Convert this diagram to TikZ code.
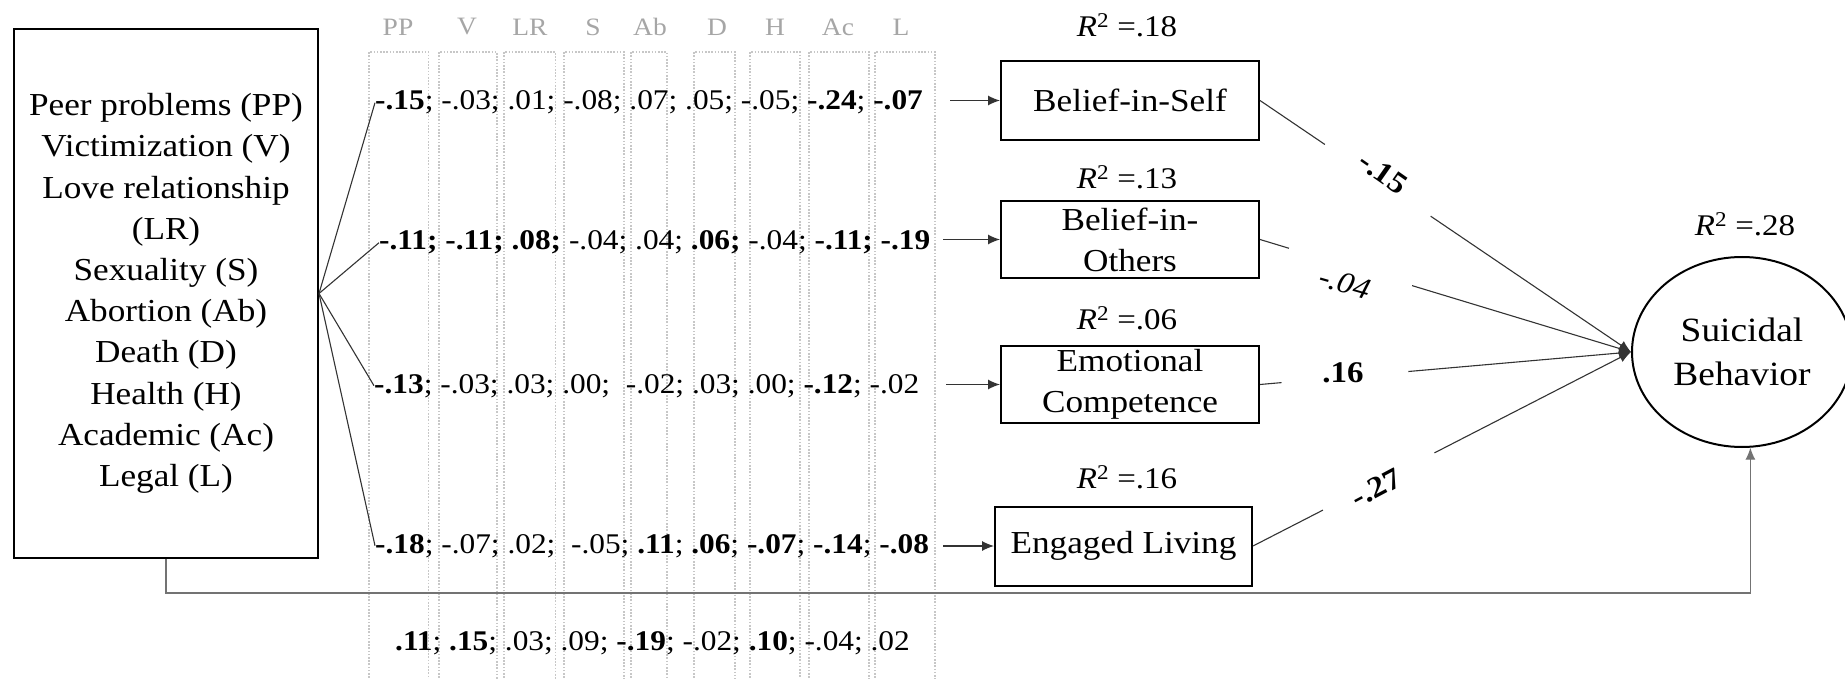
\documentclass[tikz,border=0pt]{standalone}
\usepackage{fontspec}
\setmainfont{Liberation Serif}[FakeStretch=1.1]
\usetikzlibrary{arrows.meta,shapes.geometric,calc}
\begin{document}
\begin{tikzpicture}[x=1pt,y=-1pt,
  box/.style={draw=black, line width=2pt, inner sep=0pt, align=center},
  conn/.style={draw=black!80, line width=1.1pt},
  arr/.style={conn, -{Latex[length=12pt,width=10pt]}},
  colbox/.style={draw=black!22, line width=1.6pt, dash pattern=on 1.6pt off 1.6pt},
  hdr/.style={text=black!35, font=\fontsize{25}{29}\selectfont, inner sep=0pt},
  rowtxt/.style={font=\fontsize{28.5}{32}\selectfont, inner sep=0pt, anchor=base west},
  rsq/.style={font=\fontsize{30}{34}\selectfont, inner sep=0pt},
  lbl/.style={font=\fontsize{30}{34}\selectfont, inner sep=0pt},
  medbox/.style={box, font=\fontsize{32}{41}\selectfont}
]
\useasboundingbox (0,0) rectangle (1845,679);

% dotted column frames
\foreach \a/\b in {369/428.5,439/497,504/555.5,564/624,631/667,694/735,750/800,809/869,875/935}
  \draw[colbox] (\a,681) -- (\a,52) -- (\b,52) -- (\b,681);

% column headers
\node[hdr] (hPP) at (398,27) {PP};
\node[hdr] (hV)  at (467,27) {V};
\node[hdr] (hLR) at (530,27) {LR};
\node[hdr] (hS)  at (593,27) {S};
\node[hdr] (hAb) at (650,27) {Ab};
\node[hdr] (hD)  at (717,27) {D};
\node[hdr] (hH)  at (775,27) {H};
\node[hdr] (hAc) at (838,27) {Ac};
\node[hdr] (hL)  at (901,27) {L};

% predictor box
\node[box, minimum width=304pt, minimum height=529pt, font=\fontsize{32}{41.2}\selectfont] (L) at (166,293.5)
  {Peer problems (PP)\\Victimization (V)\\Love relationship\\(LR)\\Sexuality (S)\\Abortion (Ab)\\Death (D)\\Health (H)\\Academic (Ac)\\Legal (L)};

% coefficient rows
\node[rowtxt] (r1) at (375,110) {\textbf{-.15}; -.03; .01; -.08; .07; .05; -.05; \textbf{-.24}; \textbf{-.07}};
\node[rowtxt] (r2) at (379,250) {\textbf{-.11; -.11; .08;} -.04; .04; \textbf{.06;} -.04; \textbf{-.11; -.19}};
\node[rowtxt] (r3) at (374,393) {\textbf{-.13}; -.03; .03; .00; \ -.02; .03; .00; \textbf{-.12}; -.02};
\node[rowtxt] (r4) at (375,553) {\textbf{-.18}; -.07; .02; \ -.05; \textbf{.11}; \textbf{.06}; \textbf{-.07}; \textbf{-.14}; \textbf{-.08}};
\node[rowtxt] (r5) at (395,650) {\textbf{.11}; \textbf{.15}; .03; .09; \textbf{-.19}; -.02; \textbf{.10}; -.04; .02};

% mediators
\node[medbox, minimum width=258pt, minimum height=79pt] (bs) at (1130,100.5) {Belief-in-Self};
\node[medbox, minimum width=258pt, minimum height=77pt] (bo) at (1130,239.5) {Belief-in-\\Others};
\node[medbox, minimum width=258pt, minimum height=77pt] (ec) at (1130,384.5) {Emotional\\Competence};
\node[medbox, minimum width=257pt, minimum height=79pt] (el) at (1123.5,546) {Engaged Living};

% R squared
\node[rsq] (q1) at (1127,25)  {\textit{R}\textsuperscript{2} =.18};
\node[rsq] (q2) at (1127,177) {\textit{R}\textsuperscript{2} =.13};
\node[rsq] (q3) at (1127,318) {\textit{R}\textsuperscript{2} =.06};
\node[rsq] (q4) at (1127,477) {\textit{R}\textsuperscript{2} =.16};
\node[rsq] (q5) at (1745,224) {\textit{R}\textsuperscript{2} =.28};

% outcome
\node[draw, ellipse, line width=2pt, minimum width=220pt, minimum height=190pt, inner sep=0pt, align=center,
  font=\fontsize{34}{43.5}\selectfont] (sb) at (1742,352) {Suicidal\\Behavior};

% predictor -> rows
\draw[conn] (L.east) -- (r1.west);
\draw[conn] (L.east) -- (r2.west);
\draw[conn] (L.east) -- (r3.west);
\draw[conn] (L.east) -- (r4.west);

% rows -> mediators
\coordinate (s1) at (950,100.5);
\coordinate (s2) at (943,239.5);
\coordinate (s3) at (946,384.5);
\coordinate (s4) at (943,546);
\draw[arr] (s1) -- (bs.west);
\draw[arr] (s2) -- (bo.west);
\draw[arr] (s3) -- (ec.west);
\draw[arr] (s4) -- (el.west);

% mediators -> outcome
\draw[conn] (bs.east) -- ($(bs.east)!0.175!(sb.west)$);
\draw[arr]  ($(bs.east)!0.46!(sb.west)$) -- (sb.west);
\draw[conn] (bo.east) -- ($(bo.east)!0.078!(sb.west)$);
\draw[arr]  ($(bo.east)!0.41!(sb.west)$) -- (sb.west);
\draw[conn] (ec.east) -- ($(ec.east)!0.058!(sb.west)$);
\draw[arr]  ($(ec.east)!0.40!(sb.west)$) -- (sb.west);
\draw[conn] (el.east) -- ($(el.east)!0.185!(sb.west)$);
\draw[arr]  ($(el.east)!0.48!(sb.west)$) -- (sb.west);

\node[lbl, rotate=-35] (l1) at (1383,173) {\textbf{-.15}};
\node[lbl, rotate=-16] (l2) at (1345,283) {\textit{-.04}};
\node[lbl] (l3) at (1343,373) {\textbf{.16}};
\node[lbl, rotate=28] (l4) at (1376,488) {\textbf{-.27}};

% direct path
\coordinate (dy) at (0,593);
\draw[arr, draw=black!55] (L.south) -- (L.south |- dy) -- (sb.-85 |- dy) -- (sb.-85);
\end{tikzpicture}
\end{document}
